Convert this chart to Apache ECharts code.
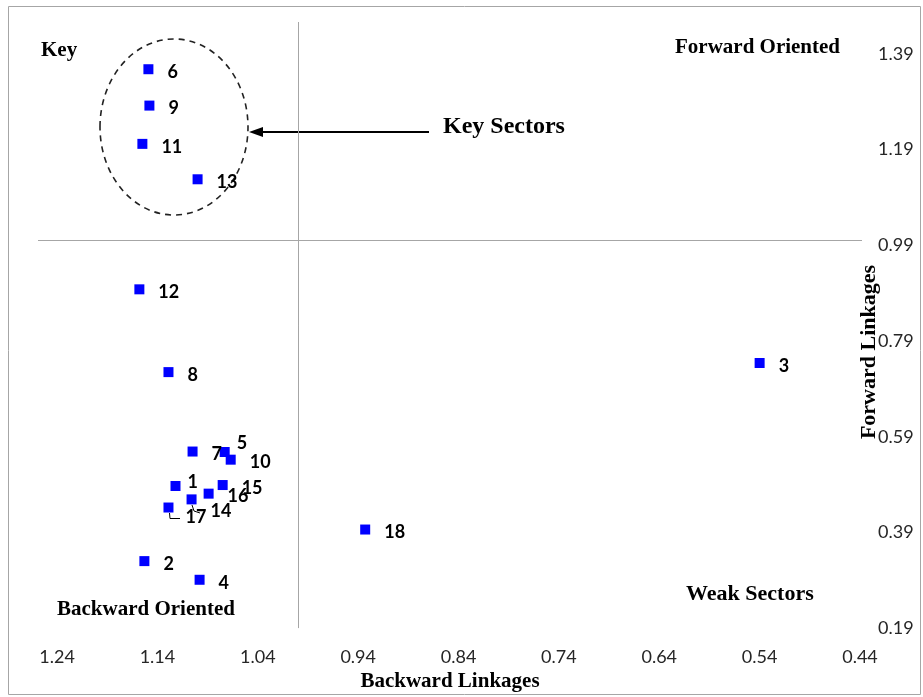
<!DOCTYPE html>
<html>
<head>
<meta charset="utf-8">
<script src="https://cdn.jsdelivr.net/npm/echarts@6/dist/echarts.min.js"></script>
<style>html,body{margin:0;padding:0;background:#fff;}#main{width:923px;height:697px;}</style>
</head>
<body>
<div id="main"></div>
<script>
// ---- data ----
const sectors = ['1','2','3','4','5','6','7','8','9','10','11','12','13','14','15','16','17','18'];
const backwardLinkages = [1.122,1.153,0.540,1.098,1.073,1.149,1.105,1.129,1.148,1.067,1.155,1.158,1.100,1.106,1.075,1.089,1.129,0.933];
const forwardLinkages  = [0.487,0.330,0.744,0.291,0.558,1.358,0.559,0.725,1.282,0.542,1.202,0.898,1.128,0.459,0.489,0.471,0.442,0.396];
const xTickLabels = [1.24,1.14,1.04,0.94,0.84,0.74,0.64,0.54,0.44];
const yTickLabels = [0.19,0.39,0.59,0.79,0.99,1.19,1.39];
const crossBackward = 1.0;
const crossForward = 1.0;

// label nudges (style only)
const labelNudge = {'5':[-7,-9],'1':[-7,-4],'14':[0,12],'17':[-2,10]};

const chart = echarts.init(document.getElementById('main'));
const serif = '"Liberation Serif","Times New Roman",serif';
const sans = 'Lato, "Open Sans", sans-serif';

const points = sectors.map((s,i)=>{
  const d = {name:s, value:[backwardLinkages[i], forwardLinkages[i]]};
  if (labelNudge[s]) d.label = {offset: labelNudge[s]};
  return d;
});

const option = {
  backgroundColor:'#ffffff',
  animation:false,
  grid:{left:38, right:61, top:22, bottom:67},
  xAxis:{
    type:'value', inverse:true, min:0.438, max:1.259,
    position:'bottom',
    name:'Backward Linkages', nameLocation:'middle', nameGap:38,
    nameTextStyle:{fontFamily:serif, fontWeight:'bold', fontSize:21, color:'#000'},
    axisLine:{show:false}, axisTick:{show:false}, splitLine:{show:false},
    axisLabel:{customValues:xTickLabels, formatter:v=>v.toFixed(2), margin:20,
      fontFamily:sans, fontSize:18, color:'#262626'}
  },
  yAxis:{
    type:'value', min:0.19, max:1.4567, position:'right',
    axisLine:{show:false}, axisTick:{show:false}, splitLine:{show:false},
    axisLabel:{customValues:yTickLabels, formatter:v=>v.toFixed(2), margin:16,
      fontFamily:sans, fontSize:18, color:'#262626'}
  },
  series:[{
    type:'scatter', symbol:'rect', symbolSize:10,
    itemStyle:{color:'#0000ff', opacity:1},
    label:{show:true, position:'right', distance:14, formatter:p=>p.name,
      fontFamily:sans, fontWeight:'bold', fontSize:18, color:'#000', offset:[0,3]},
    data:points,
    markLine:{
      silent:true, symbol:['none','none'],
      lineStyle:{color:'#a6a6a6', width:1, type:'solid'},
      label:{show:false},
      data:[{xAxis:crossBackward},{yAxis:crossForward}]
    }
  }],
  graphic:[
    {type:'rect', shape:{x:8.5,y:6.5,width:912,height:688}, style:{fill:'none', stroke:'#a6a6a6', lineWidth:1}, silent:true},
    {type:'text', x:869, y:352, rotation:Math.PI/2, style:{text:'Forward Linkages', font:'bold 22px '+serif, fill:'#000', align:'center', verticalAlign:'middle'}},
    {type:'text', x:41, y:51, style:{text:'Key', font:'bold 21px '+serif, fill:'#000', align:'left', verticalAlign:'middle'}},
    {type:'text', x:675, y:48, style:{text:'Forward Oriented', font:'bold 21px '+serif, fill:'#000', align:'left', verticalAlign:'middle'}},
    {type:'text', x:443, y:127, style:{text:'Key Sectors', font:'bold 24px '+serif, fill:'#000', align:'left', verticalAlign:'middle'}},
    {type:'text', x:57, y:610, style:{text:'Backward Oriented', font:'bold 21px '+serif, fill:'#000', align:'left', verticalAlign:'middle'}},
    {type:'text', x:686, y:594, style:{text:'Weak Sectors', font:'bold 22px '+serif, fill:'#000', align:'left', verticalAlign:'middle'}},
    {type:'ellipse', shape:{cx:174, cy:127, rx:74, ry:88}, style:{fill:'none', stroke:'#222', lineWidth:1.6, lineDash:[6,5]}, silent:true},
    {type:'line', shape:{x1:260, y1:132, x2:429, y2:132}, style:{stroke:'#000', lineWidth:2}, silent:true},
    {type:'polygon', shape:{points:[[249,132],[263,127],[263,137]]}, style:{fill:'#000'}, silent:true},
    {type:'polyline', shape:{points:[[169.5,513],[170,518.5],[180,518.5]]}, style:{stroke:'#000', lineWidth:1, fill:'none'}, silent:true},
    {type:'polyline', shape:{points:[[192,505],[194,511],[200,513]]}, style:{stroke:'#000', lineWidth:1, fill:'none'}, silent:true}
  ]
};
chart.setOption(option);
</script>
</body>
</html>
